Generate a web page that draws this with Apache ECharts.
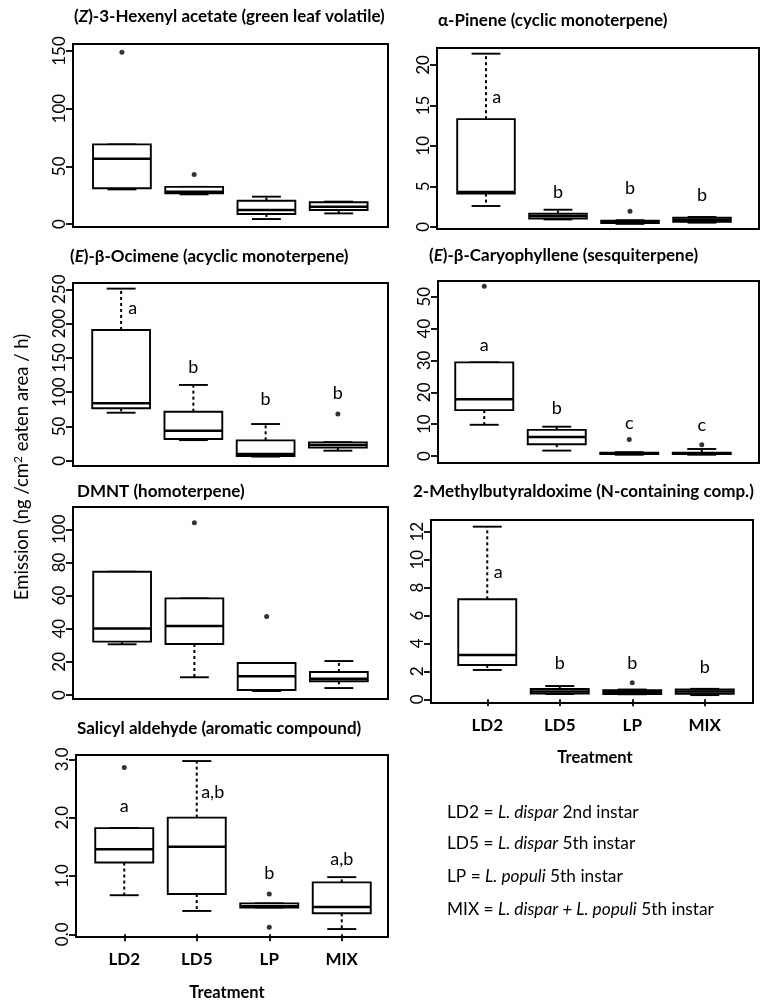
<!DOCTYPE html>
<html>
<head>
<meta charset="utf-8">
<script src="https://cdn.jsdelivr.net/npm/echarts@6/dist/echarts.min.js"></script>
<style>
  html, body { margin: 0; padding: 0; background: #fff; }
  #chart { width: 763px; height: 1001px; }
</style>
</head>
<body>
<div id="chart"></div>
<script>
// treatments (x axis)
const treatments = ['LD2', 'LD5', 'LP', 'MIX'];

// box stats per treatment: [min, q1, median, q3, max]
// outliers: [treatment index, value]
// letters: [x in treatment units, y, text]
const hexenylBoxes = [[30, 31, 56.6, 69, 69], [25.7, 26.6, 28, 32.2, 32.2], [4.3, 8.7, 12.1, 20.2, 23.7], [9.2, 12.1, 15, 18.8, 19.4]];
const hexenylOutliers = [[0, 149], [1, 43]];
const hexenylLetters = [];

const pineneBoxes = [[2.56, 4.1, 4.3, 13.3, 21.4], [0.9, 1.0, 1.3, 1.6, 2.1], [0.35, 0.45, 0.6, 0.75, 0.8], [0.5, 0.6, 0.85, 1.1, 1.2]];
const pineneOutliers = [[2, 1.9]];
const pineneLetters = [[0.15, 16, 'a'], [1, 4.3, 'b'], [2, 4.8, 'b'], [3, 3.9, 'b']];

const ocimeneBoxes = [[70, 76.4, 83.7, 190.7, 251], [30, 31.6, 43.8, 71.5, 110.5], [6, 6.8, 9.7, 29.7, 53.5], [14.6, 19, 22.9, 26.8, 27]];
const ocimeneOutliers = [[3, 68]];
const ocimeneLetters = [[0.16, 223, 'a'], [1, 137, 'b'], [2, 90, 'b'], [3, 99, 'b']];

const caryoBoxes = [[9.8, 14.4, 17.8, 29.4, 29.4], [1.7, 3.7, 6.0, 8.2, 9.2], [0.4, 0.6, 0.8, 1.0, 1.2], [0.4, 0.6, 0.8, 1.0, 2.2]];
const caryoOutliers = [[0, 53.3], [2, 5.2], [3, 3.5]];
const caryoLetters = [[0, 34.8, 'a'], [1, 15.1, 'b'], [2, 10.4, 'c'], [3, 9.7, 'c']];

const dmntBoxes = [[30.6, 32.2, 40.2, 74.4, 74.4], [10.7, 30.8, 41.6, 58.3, 58.3], [2.4, 3.0, 11.3, 19.3, 19.3], [4.2, 8.3, 9.8, 13.9, 20.5]];
const dmntOutliers = [[1, 104], [2, 47.3]];
const dmntLetters = [];

const oximeBoxes = [[2.1, 2.46, 3.17, 7.16, 12.36], [0.38, 0.42, 0.55, 0.74, 0.95], [0.36, 0.38, 0.5, 0.66, 0.7], [0.3, 0.4, 0.55, 0.7, 0.75]];
const oximeOutliers = [[2, 1.19]];
const oximeLetters = [[0.15, 9.1, 'a'], [1, 2.6, 'b'], [2, 2.6, 'b'], [3, 2.3, 'b']];

const salicylBoxes = [[0.67, 1.23, 1.46, 1.82, 1.82], [0.4, 0.69, 1.5, 2.0, 2.97], [0.46, 0.46, 0.48, 0.53, 0.53], [0.09, 0.36, 0.47, 0.89, 0.98]];
const salicylOutliers = [[0, 2.86], [2, 0.69], [2, 0.12]];
const salicylLetters = [[0, 2.2, 'a'], [1.22, 2.44, 'a,b'], [2, 1.05, 'b'], [3, 1.28, 'a,b']];

const FONT = 'Lato';

// layout of each panel: frame box, inner grid (category bands, 0..max tick)
const panels = [
  { title: '({i|Z})-3-Hexenyl acetate (green leaf volatile)', tx: 74, ty: 18,
    frame: [73, 44, 315, 183], grid: [85.8, 51, 289, 173], max: 150, step: 50,
    boxes: hexenylBoxes, outliers: hexenylOutliers, letters: hexenylLetters },
  { title: 'α-Pinene (cyclic monoterpene)', tx: 438, ty: 22,
    frame: [437, 48, 322, 181], grid: [450, 65, 288, 161.7], max: 20, step: 5,
    boxes: pineneBoxes, outliers: pineneOutliers, letters: pineneLetters },
  { title: '({i|E})-β-Ocimene (acyclic monoterpene)', tx: 70, ty: 258,
    frame: [73, 283, 315, 183], grid: [85, 289.3, 289, 171.4], max: 250, step: 50,
    boxes: ocimeneBoxes, outliers: ocimeneOutliers, letters: ocimeneLetters },
  { title: '({i|E})-β-Caryophyllene (sesquiterpene)', tx: 429, ty: 257,
    frame: [438, 281, 321, 182], grid: [448, 296.7, 290, 159.3], max: 50, step: 10,
    boxes: caryoBoxes, outliers: caryoOutliers, letters: caryoLetters },
  { title: 'DMNT (homoterpene)', tx: 77, ty: 493,
    frame: [73, 507, 315, 192], grid: [86, 529.3, 289, 165.7], max: 100, step: 20,
    boxes: dmntBoxes, outliers: dmntOutliers, letters: dmntLetters },
  { title: '2-Methylbutyraldoxime (N-containing comp.)', tx: 413, ty: 493,
    frame: [431, 520, 322, 183], grid: [451, 531.7, 290, 167.6], max: 12, step: 2,
    boxes: oximeBoxes, outliers: oximeOutliers, letters: oximeLetters, showX: true },
  { title: 'Salicyl aldehyde (aromatic compound)', tx: 77, ty: 730,
    frame: [76, 755, 312, 182], grid: [88, 759.3, 290, 175], max: 3, step: 1, decimals: 1,
    boxes: salicylBoxes, outliers: salicylOutliers, letters: salicylLetters, showX: true }
];

function renderBox(params, api) {
  const cat = api.value(0);
  const pt = (d) => api.coord([cat, api.value(d)]);
  const lo = pt(1), q1 = pt(2), md = pt(3), q3 = pt(4), hi = pt(5);
  const cx = md[0];
  const bw = api.size([1, 0])[0] * 0.8;
  const solid = { stroke: '#000', lineWidth: 1.9 };
  const dashed = { stroke: '#000', lineWidth: 2, lineDash: [3, 3] };
  return {
    type: 'group',
    children: [
      { type: 'line', shape: { x1: cx, y1: q3[1], x2: cx, y2: hi[1] }, style: dashed },
      { type: 'line', shape: { x1: cx, y1: q1[1], x2: cx, y2: lo[1] }, style: dashed },
      { type: 'line', shape: { x1: cx - bw / 4, y1: hi[1], x2: cx + bw / 4, y2: hi[1] }, style: solid },
      { type: 'line', shape: { x1: cx - bw / 4, y1: lo[1], x2: cx + bw / 4, y2: lo[1] }, style: solid },
      { type: 'rect', shape: { x: cx - bw / 2, y: q3[1], width: bw, height: q1[1] - q3[1] },
        style: { fill: '#fff', stroke: '#000', lineWidth: 1.9 } },
      { type: 'line', shape: { x1: cx - bw / 2, y1: md[1], x2: cx + bw / 2, y2: md[1] },
        style: { stroke: '#000', lineWidth: 2.5 } }
    ]
  };
}

function letterRenderer(letters) {
  return function (params, api) {
    const l = letters[params.dataIndex];
    const base = Math.round(l[0]);
    const p = api.coord([base, l[1]]);
    const band = api.size([1, 0])[0];
    return {
      type: 'text',
      x: p[0] + (l[0] - base) * band,
      y: p[1],
      style: { text: l[2], fontFamily: FONT, fontSize: 18, fill: '#000',
        textAlign: 'center', textVerticalAlign: 'middle' }
    };
  };
}

const grid = [], xAxis = [], yAxis = [], series = [], title = [];
const graphic = [];

panels.forEach((p, k) => {
  grid.push({ left: p.grid[0], top: p.grid[1], width: p.grid[2], height: p.grid[3] });
  xAxis.push({
    type: 'category', gridIndex: k, data: treatments, show: !!p.showX,
    offset: (p.frame[1] + p.frame[3]) - (p.grid[1] + p.grid[3]),
    axisLine: { show: false },
    axisTick: { show: true, alignWithLabel: true, length: 7, lineStyle: { color: '#000', width: 1.8 } },
    axisLabel: { fontFamily: FONT, fontSize: 17, fontWeight: 'bold', color: '#000', margin: 14 }
  });
  yAxis.push({
    type: 'value', gridIndex: k, min: 0, max: p.max, interval: p.step,
    offset: p.grid[0] - p.frame[0],
    splitLine: { show: false },
    axisLine: { show: true, lineStyle: { color: '#000', width: 1.8 } },
    axisTick: { show: true, length: 7, lineStyle: { color: '#000', width: 1.8 } },
    axisLabel: { rotate: 90, margin: 5, fontFamily: FONT, fontSize: 17, color: '#000',
      showMinLabel: true, showMaxLabel: true, hideOverlap: false,
      formatter: (v) => p.decimals ? v.toFixed(p.decimals) : String(v) }
  });
  series.push({
    type: 'custom', xAxisIndex: k, yAxisIndex: k, renderItem: renderBox,
    encode: { x: 0, y: [1, 2, 3, 4, 5] },
    data: p.boxes.map((b, i) => [i].concat(b))
  });
  series.push({
    type: 'scatter', xAxisIndex: k, yAxisIndex: k, clip: false,
    symbol: 'circle', symbolSize: 5, itemStyle: { color: '#000' },
    data: p.outliers
  });
  if (p.letters.length) {
    series.push({
      type: 'custom', xAxisIndex: k, yAxisIndex: k, renderItem: letterRenderer(p.letters),
      encode: { x: 0, y: 1 },
      data: p.letters.map((l) => [Math.round(l[0]), l[1]])
    });
  }
  title.push({
    text: p.title, left: p.tx, top: p.ty - 10, padding: 0,
    textStyle: {
      fontFamily: FONT, fontSize: 17, fontWeight: 'bold', color: '#000',
      rich: { i: { fontFamily: FONT, fontSize: 17, fontWeight: 'bold', fontStyle: 'italic', color: '#000' } }
    }
  });
  graphic.push({
    type: 'rect', z: 100, silent: true,
    shape: { x: p.frame[0], y: p.frame[1], width: p.frame[2], height: p.frame[3] },
    style: { fill: null, stroke: '#000', lineWidth: 2 }
  });
});

// shared axis titles
graphic.push({
  type: 'text', x: 22, y: 467, rotation: Math.PI / 2,
  style: {
    text: 'Emission (ng /cm{sup|2} eaten area / h)', fontFamily: FONT, fontSize: 18.5, fill: '#000',
    textAlign: 'center', textVerticalAlign: 'middle',
    rich: { sup: { fontFamily: FONT, fontSize: 12, verticalAlign: 'top' } }
  }
});
[[595, 758], [227, 993]].forEach((pos) => {
  graphic.push({
    type: 'text', x: pos[0], y: pos[1],
    style: { text: 'Treatment', fontFamily: FONT, fontSize: 16.5, fontWeight: 'bold', fill: '#000',
      textAlign: 'center', textVerticalAlign: 'middle' }
  });
});

// treatment key
const keyLines = [
  'LD2 = {i|L. dispar} 2nd instar',
  'LD5 = {i|L. dispar} 5th instar',
  'LP = {i|L. populi} 5th instar',
  'MIX = {i|L. dispar + L. populi} 5th instar'
];
const keyY = [812, 843, 876, 909];
keyLines.forEach((t, i) => {
  graphic.push({
    type: 'text', x: 447, y: keyY[i],
    style: { text: t, fontFamily: FONT, fontSize: 17.3, fill: '#000',
      textAlign: 'left', textVerticalAlign: 'middle',
      rich: { i: { fontFamily: FONT, fontSize: 17.3, fontStyle: 'italic', fill: '#000' } } }
  });
});

const chart = echarts.init(document.getElementById('chart'), null, { renderer: 'canvas' });
chart.setOption({
  backgroundColor: '#fff',
  animation: false,
  title, grid, xAxis, yAxis, series, graphic
});
</script>
</body>
</html>
